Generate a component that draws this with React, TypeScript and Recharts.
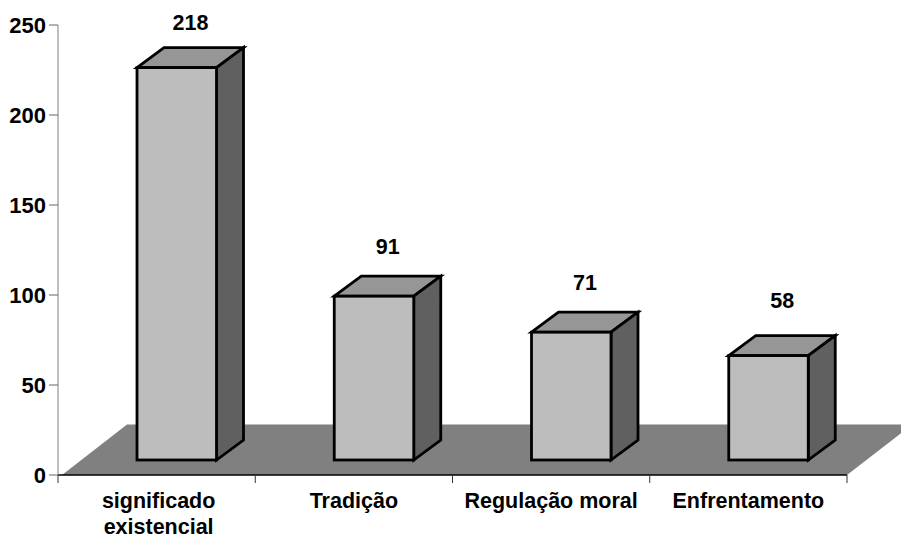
import { BarChart, Bar, XAxis, YAxis, ReferenceArea, LabelList } from 'recharts';

const categories = ['significado existencial', 'Tradição', 'Regulação moral', 'Enfrentamento'];
const values = [218, 91, 71, 58];
const yTicks = [0, 50, 100, 150, 200, 250];

// how far each value label sits above its bar
const LABEL_LIFT = [38, 42, 42, 48];

const FONT = '"Liberation Sans", Arial, sans-serif';
const CHART_W = 901;
const CHART_H = 538;
const Y_AXIS_W = 58;
const MARGIN = { top: 25, right: 54, bottom: 33, left: 0 };
const BAND = (CHART_W - Y_AXIS_W - MARGIN.right) / categories.length;

// the box stands on the floor, so it is moved right and up from the axis
const SHIFT_X = 20;
const SHIFT_Y = -15;
const DEPTH_X = 27;
const DEPTH_Y = 20;

const data = categories.map((name, i) => ({ name, value: values[i] }));

const Box3D = (props: any) => {
  const x = props.x + SHIFT_X;
  const y = props.y + SHIFT_Y;
  const width = props.width - 0.5;
  const { height } = props;
  const r = x + width;
  const b = y + height;
  const line = { stroke: '#000', strokeWidth: 2.8, strokeLinejoin: 'miter' as const };
  return (
    <g>
      <polygon
        points={`${x},${y} ${x + DEPTH_X},${y - DEPTH_Y} ${r + DEPTH_X},${y - DEPTH_Y} ${r},${y}`}
        fill="#969696"
        {...line}
      />
      <polygon
        points={`${r},${y} ${r + DEPTH_X},${y - DEPTH_Y} ${r + DEPTH_X},${b - DEPTH_Y} ${r},${b}`}
        fill="#606060"
        {...line}
      />
      <rect x={x} y={y} width={width} height={height} fill="#bdbdbd" {...line} />
    </g>
  );
};

const Floor = (props: any) => {
  const { x, y, width, height } = props;
  const b = y + height;
  return (
    <polygon
      points={`${x + 4},${b} ${x + width},${b} ${x + width + 65},${y} ${x + 69},${y}`}
      fill="#808080"
    />
  );
};

const ValueLabel = (props: any) => {
  const { x, y, width, value, index } = props;
  return (
    <text
      x={x + width / 2 + SHIFT_X + DEPTH_X / 2}
      y={y + SHIFT_Y - LABEL_LIFT[index]}
      textAnchor="middle"
      fontFamily={FONT}
      fontWeight="bold"
      fontSize={21.5}
      fill="#000"
    >
      {value}
    </text>
  );
};

const CategoryTick = (props: any) => {
  const { x, y, payload, index } = props;
  const name: string = payload.value;
  const lines = name === 'significado existencial' ? name.split(' ') : [name];
  return (
    <g>
      <line x1={x - BAND / 2} x2={x - BAND / 2} y1={y - 8} y2={y} stroke="#333" />
      {index === categories.length - 1 && (
        <line x1={x + BAND / 2} x2={x + BAND / 2} y1={y - 8} y2={y} stroke="#333" />
      )}
      {lines.map((text, i) => (
        <text
          key={text}
          x={x + (lines.length > 1 ? 2 : 0)}
          y={y + 25 + i * 26}
          textAnchor="middle"
          fontFamily={FONT}
          fontWeight="bold"
          fontSize={21.5}
          fill="#000"
        >
          {text}
        </text>
      ))}
    </g>
  );
};

export default function App() {
  return (
    <div style={{ position: 'absolute', left: 0, top: 0, background: '#fff' }}>
      <BarChart width={CHART_W} height={CHART_H} data={data} margin={MARGIN} barSize={80}>
        <ReferenceArea y1={0} y2={28} shape={<Floor />} />
        <XAxis
          dataKey="name"
          axisLine={{ stroke: '#000', strokeWidth: 1.5 }}
          tickLine={false}
          interval={0}
          tick={<CategoryTick />}
        />
        <YAxis
          domain={[0, 250]}
          ticks={yTicks}
          width={Y_AXIS_W}
          axisLine={{ stroke: '#808080' }}
          tickLine={{ stroke: '#666' }}
          tickSize={9}
          tickMargin={3}
          tick={{ fontFamily: FONT, fontWeight: 'bold', fontSize: 22, fill: '#000' }}
        />
        <Bar dataKey="value" shape={<Box3D />} isAnimationActive={false}>
          <LabelList dataKey="value" content={<ValueLabel />} />
        </Bar>
      </BarChart>
    </div>
  );
}
